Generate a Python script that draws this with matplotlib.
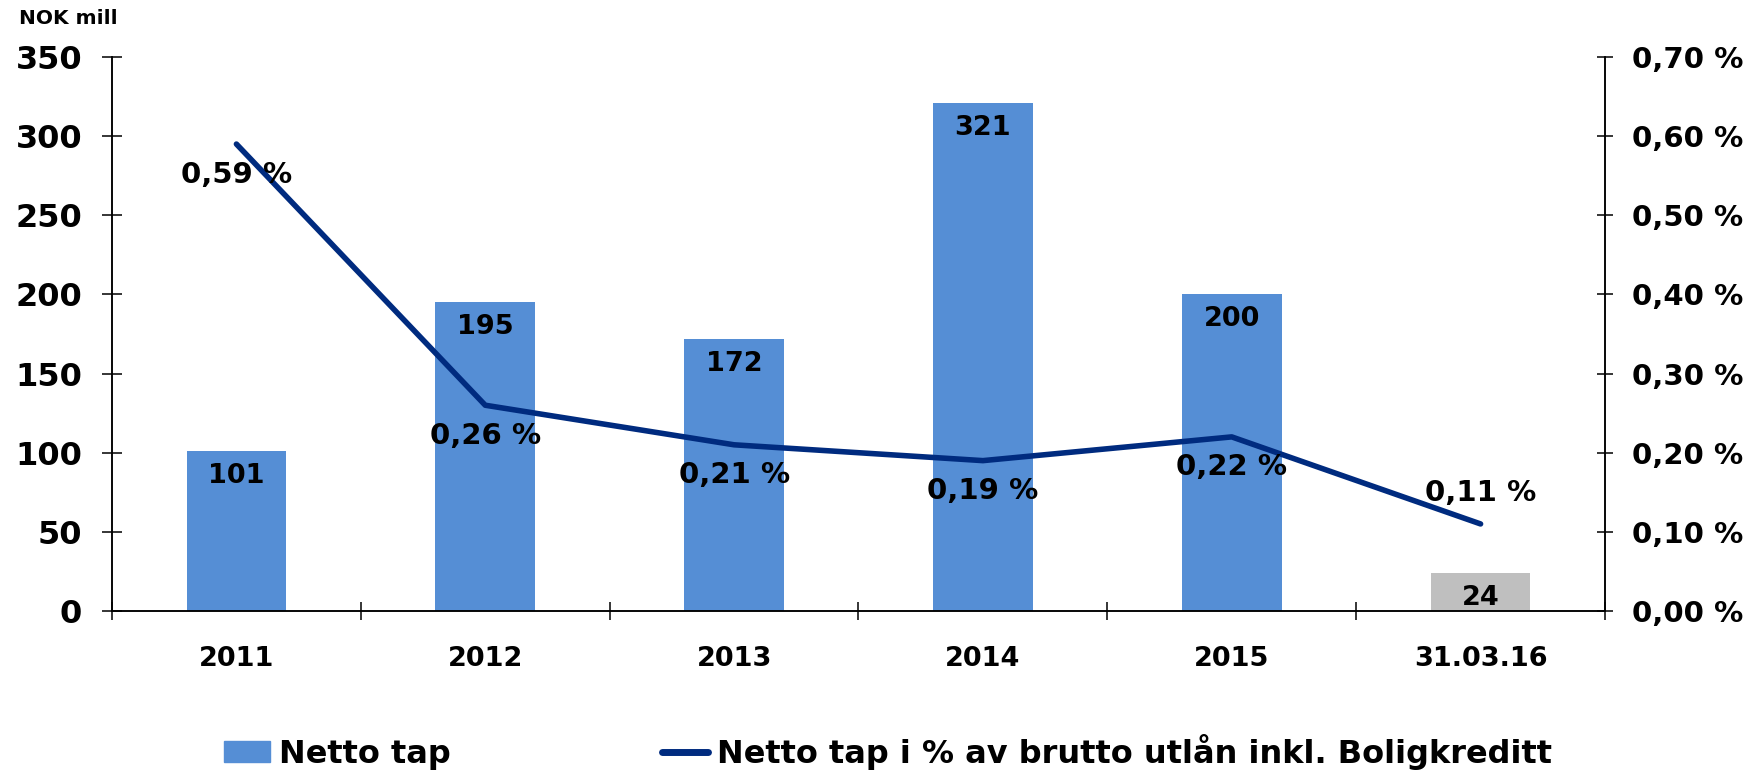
import matplotlib.pyplot as plt
from matplotlib.patches import Patch
from matplotlib.lines import Line2D

plt.rcParams['font.family'] = ['DejaVu Sans']
plt.rcParams['font.weight'] = 'bold'

categories = ['2011', '2012', '2013', '2014', '2015', '31.03.16']
netto_tap = [101, 195, 172, 321, 200, 24]
tap_pct = [0.59, 0.26, 0.21, 0.19, 0.22, 0.11]
bar_colors = ['#558ED5'] * 5 + ['#BFBFBF']
line_color = '#002B7F'

fig = plt.figure(figsize=(17.62, 7.70), dpi=100)
ax = fig.add_axes([112 / 1762, 1 - 611 / 770, (1605 - 112) / 1762, (611 - 57) / 770])
ax2 = ax.twinx()

x = list(range(len(categories)))
ax.bar(x, netto_tap, width=0.4, color=bar_colors, zorder=2)
for xi, v in zip(x, netto_tap):
    ax.annotate(str(v), (xi, v), xytext=(0, -18), textcoords='offset points',
                ha='center', va='center', fontsize=19.5, fontweight='bold')

ax2.plot(x, tap_pct, color=line_color, lw=4, solid_capstyle='round', zorder=3)
for i, (xi, v) in enumerate(zip(x, tap_pct)):
    dy = 22 if i == len(x) - 1 else -22
    ax2.annotate(f"{v:.2f} %".replace('.', ','), (xi, v), xytext=(0, dy),
                 textcoords='offset points', ha='center', va='center',
                 fontsize=21, fontweight='bold')

ax.set_xlim(-0.5, len(x) - 0.5)
ax.set_ylim(0, 350)
ax.set_yticks(range(0, 351, 50))
ax2.set_ylim(0, 0.7)
ax2.set_yticks([i / 10 for i in range(8)])
ax2.set_yticklabels([f"{i / 10:.2f} %".replace('.', ',') for i in range(8)])

# category labels in the middle, ticks on the boundaries
ax.set_xticks([i - 0.5 for i in range(len(x) + 1)])
ax.set_xticklabels([])
ax.set_xticks(x, minor=True)
ax.set_xticklabels(categories, minor=True)
ax.tick_params(axis='x', which='major', direction='inout', length=13, width=1.1)
ax.tick_params(axis='x', which='minor', length=0, pad=25, labelsize=19.5)
ax.tick_params(axis='y', direction='inout', length=15, width=1.1, pad=14, labelsize=23)
ax2.tick_params(axis='y', direction='inout', length=11.5, width=1.1, pad=14, labelsize=21)

for a in (ax, ax2):
    a.spines['top'].set_visible(False)
    for s in ('left', 'right', 'bottom'):
        a.spines[s].set_linewidth(1.1)

fig.text(19 / 1762, 1 - 18 / 770, 'NOK mill', fontsize=14.5, fontweight='bold',
         ha='left', va='center')

handles = [Patch(color='#558ED5'),
           Line2D([], [], color=line_color, lw=5, solid_capstyle='round')]
labels = ['Netto tap', 'Netto tap i % av brutto utlån inkl. Boligkreditt']
fig.legend(handles, labels, loc='center left', bbox_to_anchor=(224 / 1762, 1 - 752 / 770),
           ncol=2, frameon=False, fontsize=23, handlelength=1.45, handleheight=0.65,
           handletextpad=0.28, columnspacing=6.6, borderpad=0, borderaxespad=0)

fig.savefig('out.png', dpi=100)
